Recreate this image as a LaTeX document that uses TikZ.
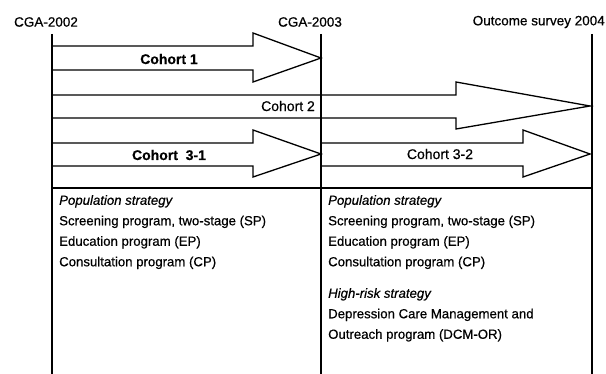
\documentclass[tikz,border=0pt]{standalone}
\usepackage{fontspec}
\setmainfont{Liberation Sans}[FakeBold=0.5]
\usetikzlibrary{positioning, calc}
\tikzset{
    timelabel/.style={
        inner sep=0pt,
        font=\fontsize{13.5}{16}\selectfont
    },
    timeline/.style={
        draw=black,
        line width=1.6pt
    },
    divider/.style={
        draw=black,
        line width=2.4pt
    },
    cohortarrow/.style={
        draw=black,
        line width=1.3pt,
        line join=miter
    },
    cohortlabel/.style={
        inner sep=0pt,
        font=\fontsize{14}{16}\selectfont
    },
    strategytext/.style={
        anchor=north west,
        align=left,
        inner sep=0pt,
        font=\fontsize{13.2}{20.5}\selectfont
    }
}

\begin{document}
\begin{tikzpicture}[x=1pt, y=-1pt]
\useasboundingbox (0,0) rectangle (606,374);

% time points
\node[timelabel] (cga02) at (46,22) {CGA-2002};
\node[timelabel] (cga03) at (310,22) {CGA-2003};
\node[timelabel, anchor=east] (out04) at (605,22) {Outcome survey 2004};

\coordinate (top02) at (52,34);
\coordinate (top03) at (321,34);
\coordinate (top04) at (592,34);
\coordinate (bot02) at (52,374);
\coordinate (bot03) at (321,374);
\coordinate (bot04) at (592,374);

% cohort arrows
\draw[cohortarrow] (52,46) -- (253,46) -- (253,33) -- (321,58) -- (253,82) -- (253,70) -- (52,70);
\draw[cohortarrow] (52,95) -- (456,95) -- (456,82) -- (590,106) -- (456,129) -- (456,118) -- (52,118);
\draw[cohortarrow] (52,143) -- (253,143) -- (253,130) -- (321,154) -- (253,177) -- (253,166) -- (52,166);
\draw[cohortarrow] (321,143) -- (523,143) -- (523,130) -- (590,154) -- (523,177) -- (523,166) -- (321,166);

\node[cohortlabel] (c1) at (169,59) {\bfseries Cohort 1};
\node[cohortlabel] (c2) at (288,106) {Cohort 2};
\node[cohortlabel] (c31) at (169,155) {\bfseries Cohort\ \ 3-1};
\node[cohortlabel] (c32) at (440,154) {Cohort 3-2};

% time lines
\draw[timeline] (top02) -- (bot02);
\draw[timeline] (top03) -- (bot03);
\draw[timeline] (top04) -- (bot04);
\draw[divider] (52,188) -- (592,188);

% strategies
\node[strategytext] (s1) at (59,195) {\textit{Population strategy}\\
Screening program, two-stage (SP)\\
Education program (EP)\\
Consultation program (CP)};
\node[strategytext] (s2) at (328,195) {\textit{Population strategy}\\
Screening program, two-stage (SP)\\
Education program (EP)\\
Consultation program (CP)\\[11pt]
\textit{High-risk strategy}\\
Depression Care Management and\\
Outreach program (DCM-OR)};

\end{tikzpicture}
\end{document}
